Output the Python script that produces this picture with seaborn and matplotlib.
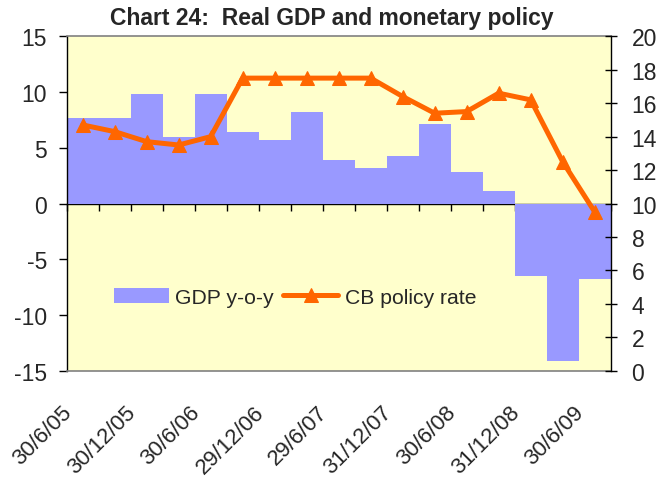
import numpy as np
import pandas as pd
import seaborn as sns
import matplotlib.pyplot as plt
from matplotlib.transforms import ScaledTranslation

# quarterly data
quarters = ["30/6/05", "30/9/05", "30/12/05", "31/3/06", "30/6/06", "29/9/06",
            "29/12/06", "30/3/07", "29/6/07", "28/9/07", "31/12/07", "31/3/08",
            "30/6/08", "30/9/08", "31/12/08", "31/3/09", "30/6/09"]
gdp_yoy = [7.7, 7.7, 9.8, 6.0, 9.8, 6.4, 5.7, 8.2, 3.9, 3.2, 4.3, 7.1,
           2.8, 1.1, -6.5, -14.1, -6.8]
policy_rate = [14.7, 14.3, 13.7, 13.5, 14.0, 17.5, 17.5, 17.5, 17.5, 17.5,
               16.4, 15.4, 15.5, 16.6, 16.2, 12.5, 9.5]
shown_labels = quarters[::2]

df = pd.DataFrame({"quarter": quarters, "gdp": gdp_yoy, "rate": policy_rate})
df["pos"] = np.arange(len(df))

sns.set_style("white")
plt.rcParams["font.family"] = ["Liberation Sans", "DejaVu Sans"]
plt.rcParams["axes.unicode_minus"] = False

fig = plt.figure(figsize=(6.64, 4.81), dpi=100)
ax = fig.add_axes([0.1004, 0.2272, 0.8193, 0.6952])
ax.set_facecolor("#FFFFCC")

# GDP bars
sns.barplot(data=df, x="quarter", y="gdp", color="#9999FF", saturation=1,
            width=1, linewidth=0, edgecolor="none", ax=ax, label="GDP y-o-y")
if ax.get_legend() is not None:
    ax.get_legend().remove()

# policy rate line on the right axis
ax2 = ax.twinx()
sns.lineplot(data=df, x="pos", y="rate", color="#FF6600", linewidth=3.6,
             marker="^", markersize=10, markeredgecolor="#FF6600",
             ax=ax2, label="CB policy rate", legend=False)

ax.set_xlim(-0.5, len(quarters) - 0.5)
ax.set_ylim(-15, 15)
ax.set_yticks(range(-15, 16, 5))
ax2.set_ylim(0, 20)
ax2.set_yticks(range(0, 21, 2))
ax.set_xlabel("")
ax.set_ylabel("")
ax2.set_xlabel("")
ax2.set_ylabel("")

ax.tick_params(axis="y", direction="out", length=6, width=1, color="black",
               labelsize=16.5, pad=8, left=True)
ax2.tick_params(axis="y", direction="inout", length=9, width=1, color="black",
                labelsize=16.5, pad=10.5, right=True)

# date labels every half year
ax.set_xticks(range(0, len(quarters), 2))
ax.set_xticklabels(shown_labels, rotation=45, ha="right", va="center",
                   rotation_mode="anchor")
ax.tick_params(axis="x", length=0, pad=27.5, labelsize=16)
shift = ScaledTranslation(-0.14, 0, fig.dpi_scale_trans)
for lab in ax.get_xticklabels():
    lab.set_transform(lab.get_transform() + shift)

# zero line with category tick marks
secax = ax.secondary_xaxis(0.5)
secax.set_xticks(np.arange(-0.5, len(quarters), 1))
secax.tick_params(axis="x", direction="out", length=5, width=1, color="black",
                  bottom=True, top=False, labelbottom=False, labeltop=False)
for s in secax.spines.values():
    s.set_color("black")
    s.set_linewidth(1)

for side in ["top", "bottom"]:
    ax.spines[side].set_color("#808080")
    ax.spines[side].set_linewidth(1.2)
ax.spines["left"].set_color("black")
ax.spines["left"].set_linewidth(1)
ax.spines["right"].set_visible(False)
for side in ["top", "bottom", "left"]:
    ax2.spines[side].set_visible(False)
ax2.spines["right"].set_color("black")
ax2.spines["right"].set_linewidth(1)

h1, l1 = ax.get_legend_handles_labels()
h2, l2 = ax2.get_legend_handles_labels()
ax2.legend(h1 + h2, l1 + l2, loc="center left", bbox_to_anchor=(0.087, 0.22),
           ncol=2, frameon=False, fontsize=15.2, handlelength=2.6,
           handleheight=0.71, handletextpad=0.3, columnspacing=0.45,
           borderpad=0, borderaxespad=0)

fig.text(0.5, 0.948, "Chart 24:  Real GDP and monetary policy", ha="center",
         va="baseline", fontsize=16.5, fontweight="bold")

fig.savefig("out.png", dpi=100)
